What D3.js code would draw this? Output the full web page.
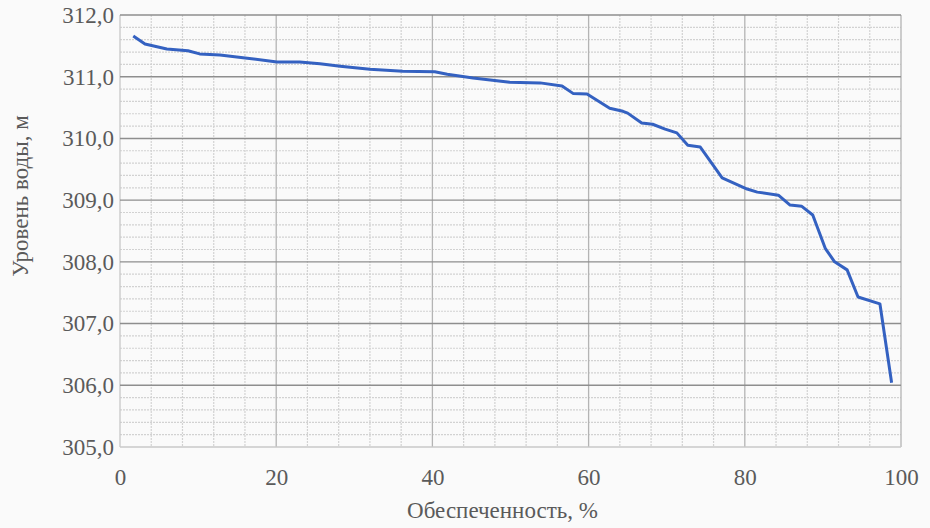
<!DOCTYPE html>
<html>
<head>
<meta charset="utf-8">
<script src="https://cdn.jsdelivr.net/npm/d3@7"></script>
<style>
  body { margin: 0; background: #fafafa; }
</style>
</head>
<body>
<script>
// обеспеченность, %
var provision = [1.7, 3.2, 6.0, 8.7, 10.2, 12.8, 16.3, 20.1, 23.0, 25.6, 28.2, 32.0, 36.2, 40.3, 41.9,
  45.2, 49.9, 53.8, 56.6, 58.0, 59.8, 62.7, 64.4, 65.0, 66.8, 68.2, 69.8, 71.3, 72.7, 74.3, 77.1,
  80.3, 81.6, 84.3, 85.8, 87.3, 88.7, 90.3, 91.5, 93.1, 94.5, 97.3, 98.8];
// уровень воды, м
var level = [311.66, 311.53, 311.45, 311.42, 311.37, 311.35, 311.30, 311.24, 311.24, 311.21, 311.17, 311.12, 311.09, 311.08, 311.04,
  310.98, 310.91, 310.90, 310.85, 310.73, 310.72, 310.49, 310.44, 310.41, 310.25, 310.23, 310.15, 310.09, 309.89, 309.86, 309.36,
  309.18, 309.13, 309.08, 308.92, 308.90, 308.76, 308.22, 308.00, 307.87, 307.43, 307.32, 306.04];

var xTicks = [0, 20, 40, 60, 80, 100];
var yTicks = [305, 306, 307, 308, 309, 310, 311, 312];

var serif = "'Liberation Serif', 'DejaVu Serif', 'Noto Serif', FreeSerif, 'Nimbus Roman', Times, serif";

var margin = {top: 15, right: 29, bottom: 81, left: 120},
    width = 930 - margin.left - margin.right,
    height = 528 - margin.top - margin.bottom;

var svg = d3.select("body").append("svg")
    .attr("width", 930)
    .attr("height", 528);

var g = svg.append("g")
    .attr("transform", "translate(" + margin.left + "," + margin.top + ")");

var x = d3.scaleLinear().domain([0, 100]).range([0, width]);
var y = d3.scaleLinear().domain([305, 312]).range([height, 0]);

// minor grid
var minorX = d3.range(0, 101, 4).filter(function(d) { return d % 20 != 0; });
var minorY = d3.range(305, 312.01, 0.2).filter(function(d) { return Math.abs(d - Math.round(d)) > 0.01; });

g.selectAll(".minx").data(minorX).enter().append("line")
    .attr("x1", function(d) { return x(d); }).attr("x2", function(d) { return x(d); })
    .attr("y1", 0).attr("y2", height)
    .attr("stroke", "#d2d2d2").attr("stroke-width", 1.2).attr("stroke-dasharray", "2,1");

g.selectAll(".miny").data(minorY).enter().append("line")
    .attr("x1", 0).attr("x2", width)
    .attr("y1", function(d) { return y(d); }).attr("y2", function(d) { return y(d); })
    .attr("stroke", "#d2d2d2").attr("stroke-width", 1.2).attr("stroke-dasharray", "2,1");

// major grid
g.selectAll(".majx").data(xTicks).enter().append("line")
    .attr("x1", function(d) { return x(d); }).attr("x2", function(d) { return x(d); })
    .attr("y1", 0).attr("y2", height)
    .attr("stroke", function(d) { return (d == 0) ? "#c8c8c8" : "#b4b4b4"; })
    .attr("stroke-width", 1.3);

g.selectAll(".majy").data(yTicks).enter().append("line")
    .attr("x1", 0).attr("x2", width)
    .attr("y1", function(d) { return y(d); }).attr("y2", function(d) { return y(d); })
    .attr("stroke", function(d) { return (d == 305) ? "#c8c8c8" : "#8e8e8e"; })
    .attr("stroke-width", 1.4);

// axes labels only
var xAxis = g.append("g")
    .attr("transform", "translate(0," + height + ")")
    .call(d3.axisBottom(x).tickValues(xTicks).tickSize(0).tickPadding(22).tickFormat(d3.format("d")));
var yAxis = g.append("g")
    .call(d3.axisLeft(y).tickValues(yTicks).tickSize(0).tickPadding(6)
      .tickFormat(function(d) { return d3.format(".1f")(d).replace(".", ","); }));

[xAxis, yAxis].forEach(function(a) {
  a.attr("font-family", serif).attr("font-size", 23);
  a.select(".domain").remove();
  a.selectAll("text").attr("fill", "#5a5a5a");
});

// line
var pts = provision.map(function(p, i) { return [p, level[i]]; });
g.append("path")
    .datum(pts)
    .attr("fill", "none")
    .attr("stroke", "#3461c1")
    .attr("stroke-width", 3)
    .attr("stroke-linejoin", "round")
    .attr("d", d3.line().x(function(d) { return x(d[0]); }).y(function(d) { return y(d[1]); }));

svg.append("text")
    .attr("transform", "translate(" + (margin.left + width / 2 - 8) + ",518)")
    .attr("text-anchor", "middle")
    .attr("font-family", serif)
    .attr("font-size", 23)
    .attr("fill", "#5a5a5a")
    .text("Обеспеченность, %");

svg.append("text")
    .attr("transform", "translate(28," + (margin.top + height / 2 - 35) + ") rotate(-90)")
    .attr("text-anchor", "middle")
    .attr("font-family", serif)
    .attr("font-size", 23)
    .attr("fill", "#5a5a5a")
    .text("Уровень воды, м");
</script>
</body>
</html>
